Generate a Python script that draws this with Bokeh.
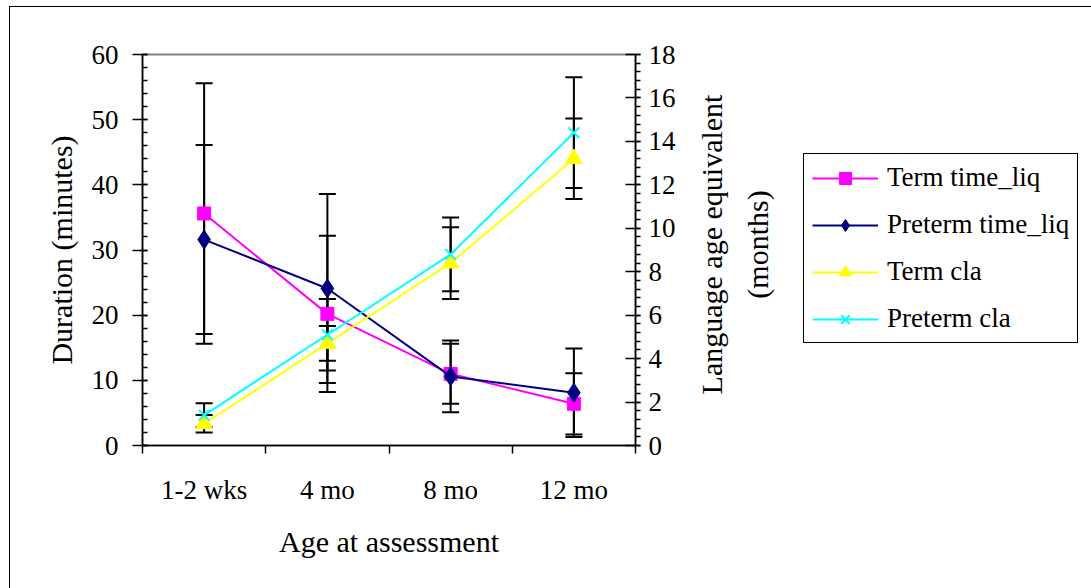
import math
from bokeh.plotting import figure
from bokeh.layouts import row
from bokeh.models import (Range1d, LinearAxis, SingleIntervalTicker, FixedTicker,
                          Legend, LegendItem, Label)
from bokeh.embed import file_html
from bokeh.resources import INLINE

categories = ["1-2 wks", "4 mo", "8 mo", "12 mo"]

term_liq = [35.6, 20.2, 11.0, 6.4]
term_liq_err = [20.0, 12.0, 4.6, 4.7]
preterm_liq = [31.6, 24.1, 10.6, 8.1]
preterm_liq_err = [14.5, 14.5, 5.5, 6.8]
term_cla = [1.0, 4.7, 8.4, 13.2]
term_cla_err = [0.4, 0.8, 1.65, 1.85]
preterm_cla = [1.4, 5.1, 8.8, 14.4]
preterm_cla_err = [0.55, 1.65, 1.7, 2.55]

left_label = "Duration (minutes)"
right_label = "Language age equivalent\n(months)"
x_label = "Age at assessment"

FONT = "Liberation Serif"
TICK_FS = "27px"
TITLE_FS = "30px"
LEG_FS = "27px"

xs = [i + 0.5 for i in range(len(categories))]
bounds = list(range(len(categories) + 1))

p = figure(width=680, height=581, x_range=Range1d(0, len(categories)), y_range=Range1d(0, 60),
           output_backend="svg", toolbar_location=None,
           x_axis_type=None, y_axis_type=None,
           min_border_left=132, min_border_top=47, min_border_bottom=143, min_border_right=55)
p.extra_y_ranges = {"right": Range1d(0, 18)}
p.grid.visible = False
p.outline_line_color = "#808080"
p.outline_line_width = 2
p.background_fill_color = "white"
p.border_fill_color = "white"


def style_axis(ax):
    ax.axis_line_color = "black"
    ax.axis_line_width = 1.5
    ax.major_tick_line_color = "black"
    ax.minor_tick_line_color = "black"
    ax.major_tick_line_width = 1.5
    ax.minor_tick_line_width = 1.5
    ax.major_label_text_font = FONT
    ax.major_label_text_font_size = TICK_FS
    ax.major_label_text_color = "black"
    ax.axis_label_text_font = FONT
    ax.axis_label_text_font_size = TITLE_FS
    ax.axis_label_text_font_style = "normal"
    ax.axis_label_text_color = "black"


left = LinearAxis(ticker=SingleIntervalTicker(interval=10, num_minor_ticks=5), axis_label=left_label)
style_axis(left)
left.major_tick_out = 10
left.major_tick_in = 5
left.minor_tick_out = 0
left.minor_tick_in = 5
left.major_label_standoff = 14
left.axis_label_standoff = 11
p.add_layout(left, "left")

bottom = LinearAxis(ticker=FixedTicker(ticks=xs, minor_ticks=bounds),
                    major_label_overrides={x: c for x, c in zip(xs, categories)},
                    axis_label=x_label)
style_axis(bottom)
bottom.major_tick_out = 0
bottom.major_tick_in = 0
bottom.minor_tick_out = 8
bottom.minor_tick_in = 0
bottom.major_label_standoff = 21
bottom.axis_label_standoff = 17
p.add_layout(bottom, "below")

right = LinearAxis(y_range_name="right", ticker=SingleIntervalTicker(interval=2, num_minor_ticks=5))
style_axis(right)
right.major_tick_out = 5
right.major_tick_in = 10
right.minor_tick_out = 5
right.minor_tick_in = 0
right.major_label_standoff = 8
p.add_layout(right, "right")


def errbars(vals, errs, rng):
    lo = [v - e for v, e in zip(vals, errs)]
    hi = [v + e for v, e in zip(vals, errs)]
    kw = {} if rng is None else {"y_range_name": rng}
    p.segment(x0=xs, y0=lo, x1=xs, y1=hi, line_color="black", line_width=2, **kw)
    p.scatter(x=xs + xs, y=lo + hi, marker="dash", size=17, line_color="black", line_width=2, **kw)


errbars(term_liq, term_liq_err, None)
errbars(preterm_liq, preterm_liq_err, None)
errbars(term_cla, term_cla_err, "right")
errbars(preterm_cla, preterm_cla_err, "right")

series = [
    ("Term time_liq", term_liq, None, "#FF00FF", "square", 13),
    ("Preterm time_liq", preterm_liq, None, "#000080", "diamond", 19),
    ("Term cla", term_cla, "right", "#FFFF00", "triangle", 17),
    ("Preterm cla", preterm_cla, "right", "#00FFFF", "x", 15),
]

# side panel (its frame lines up with the main frame): right-axis title and legend.
# Its view window lies away from the data, so its copies of the series only feed the legend.
q = figure(width=401, height=581, x_range=Range1d(100, 101), y_range=Range1d(100, 101),
           output_backend="svg", toolbar_location=None,
           x_axis_type=None, y_axis_type=None,
           min_border_left=0, min_border_right=0, min_border_top=0, min_border_bottom=0)
q.outline_line_color = None
q.background_fill_color = "white"
q.border_fill_color = "white"

items = []
for name, vals, rng, col, mk, sz in series:
    kw = {} if rng is None else {"y_range_name": rng}
    p.line(x=xs, y=vals, line_color=col, line_width=2, **kw)
    if mk == "x":
        p.scatter(x=xs, y=vals, marker=mk, size=sz, line_color=col, line_width=2, **kw)
        sc = q.scatter(x=xs, y=vals, marker=mk, size=sz, line_color=col, line_width=2)
    else:
        p.scatter(x=xs, y=vals, marker=mk, size=sz, fill_color=col, line_color=col, **kw)
        sc = q.scatter(x=xs, y=vals, marker=mk, size=sz, fill_color=col, line_color=col)
    ln = q.line(x=xs, y=vals, line_color=col, line_width=2)
    items.append(LegendItem(label=name, renderers=[ln, sc]))

q.add_layout(Label(x=44, y=201, x_units="screen", y_units="screen", text=right_label,
                   angle=math.pi / 2, text_align="center", text_baseline="middle",
                   text_line_height=1.4,
                   text_font=FONT, text_font_size=TITLE_FS, text_color="black"))

legend = Legend(items=items, location=(113, 102), orientation="vertical",
                border_line_color="black", border_line_width=1, border_line_alpha=1,
                background_fill_color="white", background_fill_alpha=1,
                label_text_font=FONT, label_text_font_size=LEG_FS, label_text_color="black",
                glyph_width=66, glyph_height=30, label_height=30, spacing=16,
                padding=8, margin=0, label_standoff=9)
q.add_layout(legend)

layout = row(p, q, spacing=0)
layout.styles = {"margin-left": "9px", "margin-top": "6px",
                 "border-left": "1px solid black", "border-top": "1px solid black"}

open("out.html", "w").write(file_html(layout, INLINE))
